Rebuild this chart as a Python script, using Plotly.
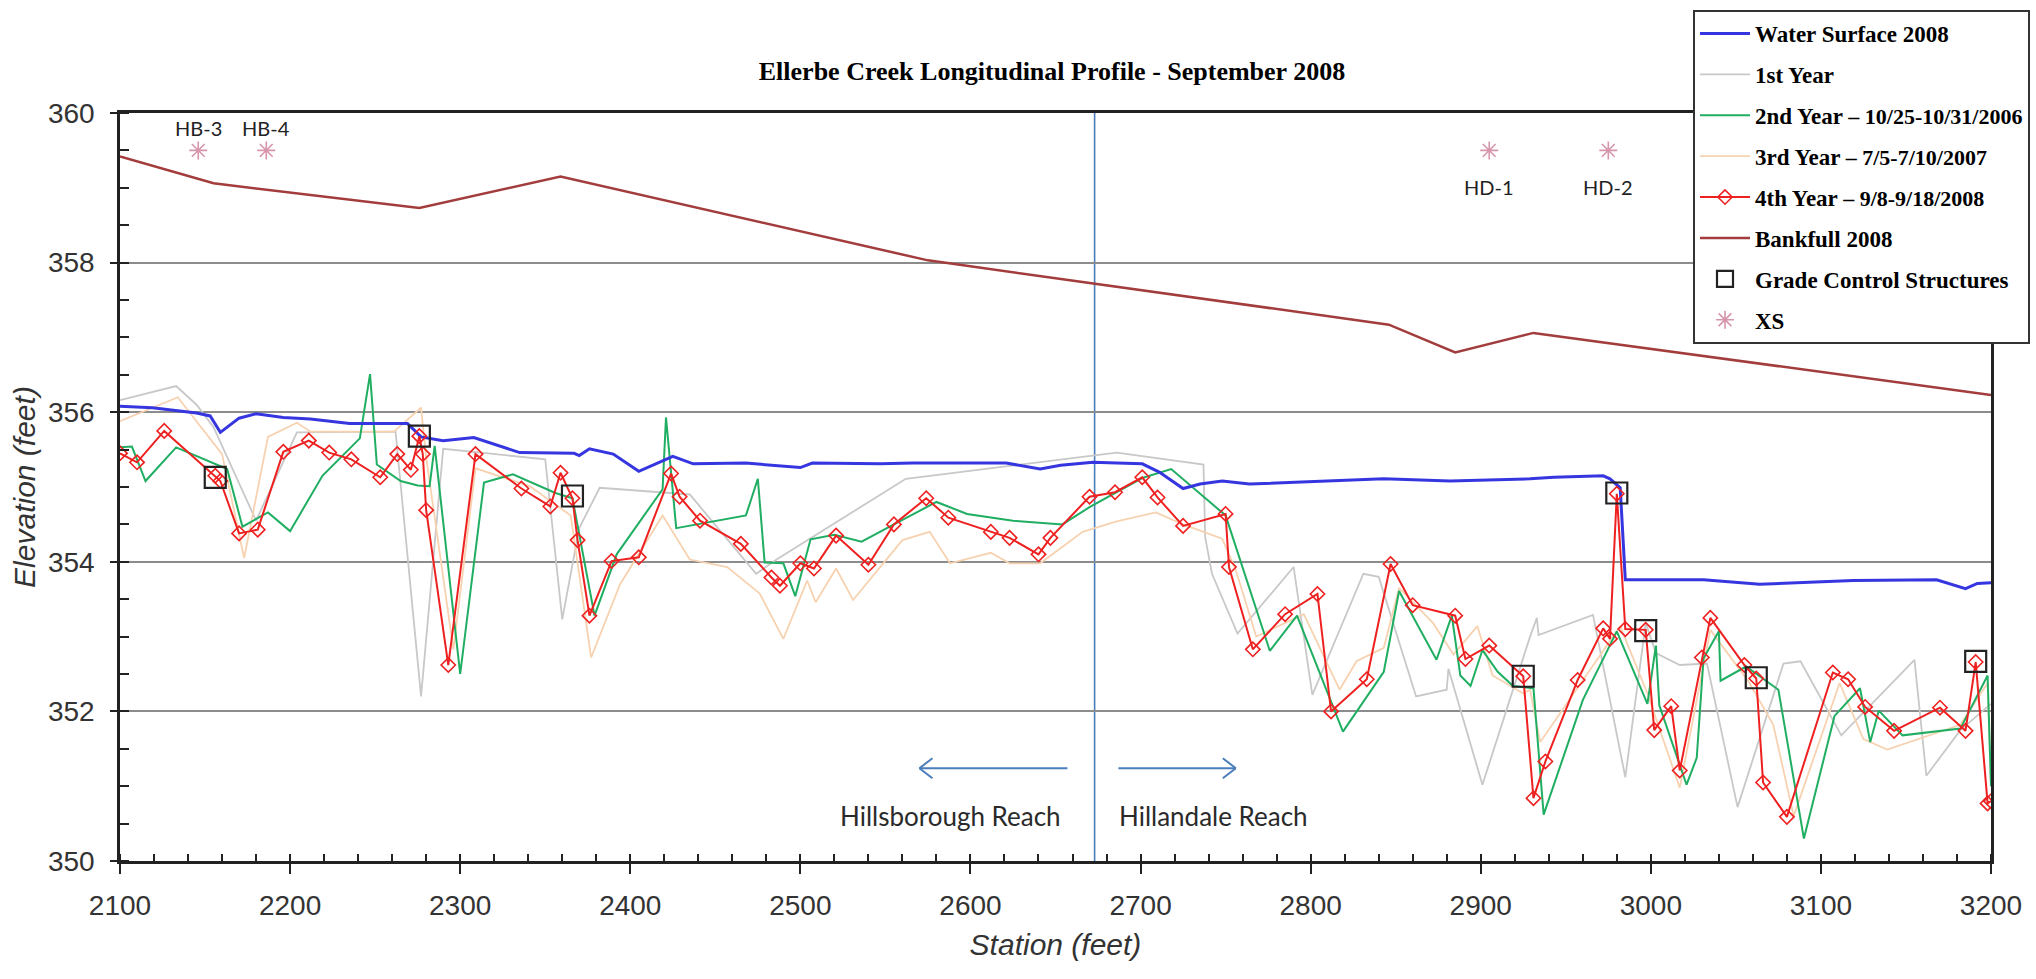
import plotly.graph_objects as go

# ---------------- data ----------------
ws_x = [2100, 2119, 2145, 2153, 2159, 2170, 2180, 2196, 2212, 2235, 2269, 2277, 2290, 2308, 2335,
        2367, 2370, 2376, 2390, 2405, 2419, 2425, 2437, 2468, 2500, 2507, 2547, 2566, 2621, 2633,
        2641, 2653, 2672, 2686, 2701, 2711, 2725, 2735, 2748, 2764, 2803, 2843, 2882, 2929, 2943,
        2972, 2976, 2982, 2985, 3001, 3031, 3064, 3119, 3168, 3185, 3192, 3200]
ws_y = [356.08, 356.06, 355.99, 355.95, 355.73, 355.92, 355.98, 355.93, 355.91, 355.85, 355.85, 355.67, 355.62, 355.66, 355.46,
        355.45, 355.42, 355.51, 355.44, 355.21, 355.35, 355.41, 355.31, 355.32, 355.26, 355.32, 355.31, 355.32, 355.32, 355.27,
        355.24, 355.29, 355.33, 355.32, 355.31, 355.20, 354.98, 355.04, 355.08, 355.04, 355.07, 355.11, 355.08, 355.11, 355.13,
        355.15, 355.11, 354.99, 353.76, 353.76, 353.76, 353.70, 353.75, 353.76, 353.64, 353.71, 353.72]

y1_x = [2100, 2133, 2145, 2155, 2180, 2204, 2262, 2277, 2290, 2350, 2360, 2370, 2382, 2435, 2474,
        2486, 2562, 2653, 2686, 2737, 2738, 2742, 2757, 2790, 2801, 2831, 2840, 2862, 2880, 2881,
        2901, 2929, 2933, 2934, 2966, 2985, 2997, 3003, 3017, 3033, 3051, 3078, 3088, 3112, 3155,
        3162, 3182, 3200]
y1_y = [356.16, 356.35, 356.10, 355.80, 354.55, 355.73, 355.74, 352.20, 355.51, 355.37, 353.23, 354.45, 354.99, 354.90, 353.84,
        354.03, 355.11, 355.37, 355.46, 355.30, 354.33, 353.84, 353.04, 353.93, 352.22, 353.84, 353.80, 352.20, 352.29, 352.57,
        351.02, 353.00, 353.25, 353.02, 353.29, 351.12, 353.18, 352.78, 352.62, 352.64, 350.72, 352.64, 352.67, 351.68, 352.69,
        351.14, 351.75, 352.10]

y2_x = [2100, 2107, 2115, 2133, 2163, 2172, 2187, 2200, 2219, 2241, 2247, 2251, 2265, 2275, 2282,
        2285, 2300, 2314, 2331, 2356, 2366, 2379, 2392, 2419, 2421, 2427, 2468, 2475, 2479, 2490,
        2497, 2506, 2520, 2536, 2555, 2580, 2598, 2625, 2654, 2670, 2701, 2718, 2750, 2776, 2792,
        2819, 2843, 2852, 2874, 2883, 2888, 2894, 2901, 2910, 2919, 2931, 2937, 2960, 2980, 2998,
        3003, 3005, 3021, 3027, 3031, 3040, 3041, 3056, 3075, 3090, 3108, 3123, 3129, 3134, 3148,
        3182, 3198, 3200]
y2_y = [355.53, 355.54, 355.08, 355.53, 355.24, 354.47, 354.66, 354.41, 355.15, 355.65, 356.51, 355.30, 355.08, 355.02, 355.01,
        355.55, 352.50, 355.06, 355.17, 354.92, 354.85, 353.28, 354.10, 354.97, 355.93, 354.45, 354.62, 355.11, 353.99, 353.98,
        353.54, 354.30, 354.36, 354.27, 354.50, 354.80, 354.64, 354.55, 354.50, 354.73, 355.12, 355.24, 354.62, 352.81, 353.28,
        351.73, 352.53, 353.61, 352.69, 353.28, 352.48, 352.34, 352.82, 352.53, 352.34, 352.31, 350.62, 352.15, 353.07, 352.10,
        352.88, 352.08, 351.02, 351.38, 352.71, 353.07, 352.41, 352.60, 352.29, 350.30, 351.94, 352.31, 351.59, 352.01, 351.68,
        351.77, 352.48, 351.00]

y3_x = [2100, 2134, 2160, 2173, 2187, 2204, 2212, 2261, 2277, 2280, 2296, 2309, 2341, 2365, 2377,
        2394, 2419, 2435, 2457, 2476, 2490, 2504, 2509, 2521, 2531, 2560, 2576, 2588, 2612, 2623,
        2641, 2666, 2686, 2709, 2725, 2748, 2756, 2768, 2796, 2817, 2827, 2843, 2852, 2872, 2884,
        2898, 2907, 2925, 2929, 2935, 2962, 2982, 2998, 3017, 3035, 3058, 3072, 3084, 3111, 3125,
        3139, 3182, 3198, 3200]
y3_y = [355.88, 356.20, 355.44, 354.05, 355.67, 355.86, 355.74, 355.74, 356.06, 355.40, 352.83, 355.25, 355.01, 354.62, 352.72,
        353.70, 354.62, 354.03, 353.93, 353.58, 352.97, 353.75, 353.46, 353.91, 353.49, 354.29, 354.40, 353.98, 354.12, 353.98,
        353.98, 354.40, 354.54, 354.66, 354.50, 354.31, 353.89, 353.00, 353.30, 352.29, 352.67, 352.85, 353.65, 353.18, 352.76,
        353.14, 352.48, 352.24, 352.29, 351.59, 352.48, 353.14, 352.24, 350.98, 353.09, 352.38, 351.82, 350.60, 352.38, 351.63,
        351.49, 351.82, 352.38, 351.00]

y4_x = [2100, 2110, 2126, 2156, 2159, 2170, 2181, 2196, 2211, 2223, 2236, 2253, 2263, 2271, 2276,
        2278, 2280, 2293, 2309, 2336, 2353, 2359, 2366, 2369, 2376, 2389, 2405, 2424, 2429, 2441,
        2465, 2483, 2488, 2500, 2508, 2521, 2540, 2555, 2574, 2587, 2612, 2623, 2640, 2647, 2670,
        2685, 2701, 2710, 2725, 2750, 2752, 2766, 2785, 2804, 2812, 2833, 2847, 2860, 2885, 2891,
        2905, 2925, 2931, 2938, 2957, 2972, 2976, 2980, 2985, 2997, 3002, 3012, 3017, 3030, 3035,
        3055, 3062, 3066, 3080, 3107, 3116, 3126, 3143, 3170, 3185, 3191, 3198, 3200]
y4_y = [355.45, 355.33, 355.75, 355.15, 355.08, 354.38, 354.43, 355.47, 355.62, 355.46, 355.37, 355.13, 355.44, 355.23, 355.68,
        355.44, 354.69, 352.62, 355.44, 354.98, 354.74, 355.19, 354.85, 354.29, 353.28, 354.01, 354.06, 355.18, 354.87, 354.55,
        354.24, 353.79, 353.68, 353.98, 353.91, 354.35, 353.96, 354.50, 354.85, 354.59, 354.40, 354.32, 354.10, 354.32, 354.87,
        354.93, 355.13, 354.86, 354.48, 354.64, 353.93, 352.83, 353.30, 353.57, 352.00, 352.43, 353.97, 353.42, 353.28, 352.70,
        352.88, 352.47, 350.84, 351.33, 352.42, 353.11, 352.97, 354.91, 353.10, 353.09, 351.75, 352.07, 351.21, 352.72, 353.25,
        352.62, 352.44, 351.05, 350.59, 352.52, 352.43, 352.06, 351.74, 352.05, 351.74, 352.66, 350.77, 350.80]

bf_x = [2100, 2155, 2276, 2359, 2575, 2846, 2885, 2931, 3200]
bf_y = [359.42, 359.06, 358.73, 359.15, 358.03, 357.17, 356.80, 357.06, 356.23]

gc_x = [2156, 2276, 2366, 2925, 2980, 2997, 3062, 3191]
gc_y = [355.13, 355.68, 354.88, 352.47, 354.92, 353.08, 352.45, 352.67]

xs_x = [2146, 2186, 2905, 2975]
xs_y = [359.5, 359.5, 359.5, 359.5]
xs_labels = ["HB-3", "HB-4", "HD-1", "HD-2"]
xs_label_side = ["above", "above", "below", "below"]

reach_boundary = 2673
reach_names = ["Hillsborough Reach", "Hillandale Reach"]

x_ticks = [2100, 2200, 2300, 2400, 2500, 2600, 2700, 2800, 2900, 3000, 3100, 3200]
y_ticks = [350, 352, 354, 356, 358, 360]

# ---------------- figure ----------------
LEG = "Liberation Serif"
fig = go.Figure()

def nm(main, extra=None):
    if extra is None:
        return main
    return main + " <span style='font-size:22px'>" + extra + "</span>"

fig.add_trace(go.Scatter(x=y1_x, y=y1_y, mode="lines", name="1st Year",
                         line=dict(color="#c8c8c8", width=1.8), legendrank=2, legendgroup="g2"))
fig.add_trace(go.Scatter(x=y3_x, y=y3_y, mode="lines", name=nm("3rd Year", "– 7/5-7/10/2007"),
                         line=dict(color="#f7d2b0", width=1.8), legendrank=4, legendgroup="g4"))
fig.add_trace(go.Scatter(x=y2_x, y=y2_y, mode="lines", name=nm("2nd Year", "– 10/25-10/31/2006"),
                         line=dict(color="#1fae62", width=2), legendrank=3, legendgroup="g3"))
fig.add_trace(go.Scatter(x=ws_x, y=ws_y, mode="lines", name="Water Surface 2008",
                         line=dict(color="#3636e0", width=3), legendrank=1, legendgroup="g1"))
fig.add_trace(go.Scatter(x=bf_x, y=bf_y, mode="lines", name="Bankfull 2008",
                         line=dict(color="#a33c3c", width=2.5), legendrank=6, legendgroup="g6"))
fig.add_trace(go.Scatter(x=y4_x, y=y4_y, mode="lines+markers", name=nm("4th Year", "– 9/8-9/18/2008"),
                         line=dict(color="#ee2020", width=2),
                         marker=dict(symbol="diamond-open", size=11, color="#ee2020", line=dict(width=1.6)),
                         legendrank=5, legendgroup="g5"))
fig.add_trace(go.Scatter(x=gc_x, y=gc_y, mode="markers", name="Grade Control Structures",
                         marker=dict(symbol="square-open", size=21, color="#222222", line=dict(width=2.2)),
                         legendrank=7, legendgroup="g7"))
fig.add_trace(go.Scatter(x=xs_x, y=xs_y, mode="markers", name="XS",
                         marker=dict(symbol="asterisk-open", size=15, color="#d795ab", line=dict(width=1.6, color="#d795ab")),
                         legendrank=8, legendgroup="g8"))

# XS labels
for x, y, t, side in zip(xs_x, xs_y, xs_labels, xs_label_side):
    fig.add_annotation(x=x, y=y, text=t, showarrow=False, yshift=22 if side == "above" else -37,
                       font=dict(family="Lato, Open Sans, sans-serif", size=20, color="#222"))

# reach boundary line
fig.add_shape(type="line", xref="x", yref="y", x0=reach_boundary, x1=reach_boundary, y0=350, y1=360,
              line=dict(color="#4a7ebb", width=1.6), layer="below")

# reach arrows (line + open chevron heads); offsets in feet from the boundary
arrow_y = 351.24
ft_per_px = 1 / 1.701
el_per_px = 1 / 74.8
arrows = [(reach_boundary - 16, reach_boundary - 103, -1),
          (reach_boundary + 14, reach_boundary + 83, 1)]
for tail, head, d in arrows:
    fig.add_shape(type="line", xref="x", yref="y", x0=tail, x1=head, y0=arrow_y, y1=arrow_y,
                  line=dict(color="#4a7ebb", width=2))
    for s in (1, -1):
        fig.add_shape(type="line", xref="x", yref="y", x0=head, y0=arrow_y,
                      x1=head - d * 13 * ft_per_px, y1=arrow_y + s * 10 * el_per_px,
                      line=dict(color="#4a7ebb", width=2))

fig.add_annotation(x=reach_boundary - 85, y=350.6, text=reach_names[0], showarrow=False,
                   font=dict(family="Lato, Open Sans, sans-serif", size=26, color="#2a2a2a"))
fig.add_annotation(x=reach_boundary + 70, y=350.6, text=reach_names[1], showarrow=False,
                   font=dict(family="Lato, Open Sans, sans-serif", size=26, color="#2a2a2a"))

fig.update_layout(
    width=2036, height=979,
    margin=dict(l=120, r=45, t=113, b=118, autoexpand=False),
    paper_bgcolor="white", plot_bgcolor="white",
    title=dict(text="Ellerbe Creek Longitudinal Profile - September 2008",
               x=0.5167, xanchor="center", y=1 - 71 / 979, yanchor="middle",
               font=dict(family=LEG, size=26, color="black", weight="bold")),
    showlegend=True,
    legend=dict(x=(1693 - 120) / 1871, y=(861 - 10) / 748, xanchor="left", yanchor="top",
                bgcolor="white", bordercolor="#333", borderwidth=2,
                font=dict(family=LEG, size=23, color="black", weight="bold"),
                tracegroupgap=8, itemwidth=50),
    xaxis=dict(range=[2100, 3200], tickvals=x_ticks, ticktext=[str(v) for v in x_ticks],
               showgrid=False, zeroline=False,
               showline=True, linecolor="#222", linewidth=2.5, mirror=True,
               ticks="outside", ticklen=10, tickwidth=2, tickcolor="#222",
               minor=dict(ticks="inside", ticklen=7, tickwidth=1.5, tickcolor="#222", dtick=20, showgrid=False),
               tickfont=dict(family="Liberation Sans, Arial, sans-serif", size=28, color="#333"),
               ticklabelstandoff=8,
               title=dict(text="Station (feet)", standoff=14,
                          font=dict(family="Liberation Sans, Arial, sans-serif", size=30, color="#333", style="italic"))),
    yaxis=dict(range=[350, 360], tickvals=y_ticks, ticktext=[str(v) for v in y_ticks],
               showgrid=True, gridcolor="#8c8c8c", gridwidth=2, zeroline=False,
               showline=True, linecolor="#222", linewidth=2.5, mirror=True,
               ticks="outside", ticklen=7, tickwidth=2, tickcolor="#222",
               minor=dict(ticks="inside", ticklen=9, tickwidth=1.5, tickcolor="#222", dtick=0.5, showgrid=False),
               tickfont=dict(family="Liberation Sans, Arial, sans-serif", size=28, color="#333"),
               ticklabelstandoff=10,
               title=dict(text="Elevation (feet)", standoff=4,
                          font=dict(family="Liberation Sans, Arial, sans-serif", size=30, color="#333", style="italic"))),
)

fig.write_html("out.html", config={"displayModeBar": False},
               post_script="document.body.style.margin='0';document.body.style.overflow='hidden';")
